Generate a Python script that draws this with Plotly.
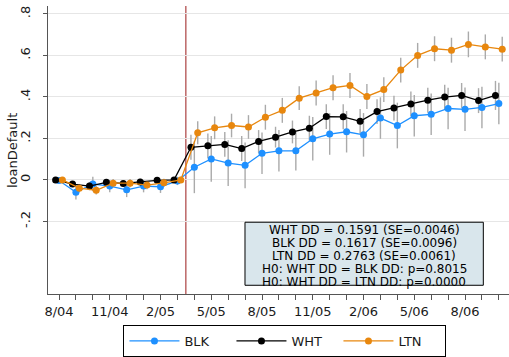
import plotly.graph_objects as go

# month index 0 = 8/04 ... 26 = 10/06
months = list(range(27))
tick_text = ["8/04", "", "", "11/04", "", "", "2/05", "", "", "5/05", "", "",
             "8/05", "", "", "11/05", "", "", "2/06", "", "", "5/06", "", "",
             "8/06", "", ""]

blk = [-0.003, -0.060, -0.020, -0.030, -0.048, -0.030, -0.033, -0.005,
       0.061, 0.101, 0.081, 0.070, 0.128, 0.140, 0.140, 0.198, 0.221, 0.232,
       0.217, 0.298, 0.262, 0.309, 0.316, 0.344, 0.340, 0.349, 0.368]
wht = [0.000, -0.020, -0.030, -0.012, -0.017, -0.010, -0.002, 0.000,
       0.157, 0.164, 0.171, 0.151, 0.185, 0.206, 0.231, 0.249, 0.305, 0.304,
       0.282, 0.329, 0.346, 0.366, 0.384, 0.399, 0.407, 0.382, 0.407]
ltn = [0.000, -0.040, -0.050, -0.016, -0.016, -0.025, -0.014, 0.000,
       0.227, 0.251, 0.262, 0.255, 0.302, 0.335, 0.394, 0.419, 0.444, 0.455,
       0.402, 0.435, 0.529, 0.600, 0.632, 0.625, 0.653, 0.641, 0.630]

blk_ci = [0.010, 0.035, 0.035, 0.030, 0.035, 0.030, 0.030, 0.020,
          0.125, 0.110, 0.110, 0.110, 0.100, 0.100, 0.095, 0.105, 0.100, 0.100,
          0.105, 0.100, 0.110, 0.100, 0.100, 0.100, 0.105, 0.100, 0.100]
wht_ci = [0.005, 0.015, 0.020, 0.015, 0.015, 0.015, 0.015, 0.010,
          0.060, 0.060, 0.060, 0.060, 0.055, 0.050, 0.055, 0.060, 0.060, 0.060,
          0.060, 0.060, 0.060, 0.060, 0.060, 0.060, 0.060, 0.060, 0.070]
ltn_ci = [0.010, 0.020, 0.020, 0.020, 0.020, 0.020, 0.020, 0.015,
          0.055, 0.055, 0.057, 0.057, 0.060, 0.060, 0.057, 0.060, 0.060, 0.060,
          0.060, 0.060, 0.060, 0.060, 0.060, 0.060, 0.062, 0.060, 0.060]

box_lines = ["WHT DD = 0.1591 (SE=0.0046)",
             "BLK DD = 0.1617 (SE=0.0096)",
             "LTN DD = 0.2763 (SE=0.0061)",
             "H0: WHT DD = BLK DD: p=0.8015",
             "H0: WHT DD = LTN DD: p=0.0000"]

treat_month = 7.5
y_ticks = [-0.2, 0, 0.2, 0.4, 0.6, 0.8]
y_tick_text = ["-.2", "0", ".2", ".4", ".6", ".8"]
y_title = "loanDefault"

FONT = "DejaVu Sans"
series = [("BLK", blk, blk_ci, "#1e90ff", 0.0),
          ("WHT", wht, wht_ci, "#000000", -0.2),
          ("LTN", ltn, ltn_ci, "#e8870e", 0.2)]

fig = go.Figure()
# error bars first (behind lines/markers)
for name, vals, ci, col, off in series:
    fig.add_trace(go.Scatter(
        x=[m + off for m in months], y=vals, mode="markers",
        marker=dict(size=1, opacity=0),
        error_y=dict(type="data", array=ci, visible=True, width=0,
                     color="#aaaaaa", thickness=1.4),
        showlegend=False, hoverinfo="skip", cliponaxis=False))
for name, vals, ci, col, off in series:
    fig.add_trace(go.Scatter(
        x=[m + off for m in months], y=vals, mode="lines+markers", name=name,
        line=dict(color=col, width=1.3),
        marker=dict(color=col, size=7), cliponaxis=False))

fig.add_shape(type="line", xref="x", yref="paper", x0=treat_month, x1=treat_month,
              y0=0, y1=1, line=dict(color="#9b1b1b", width=1), layer="below")

# text box
fig.add_shape(type="rect", xref="paper", yref="paper",
              x0=0.4273, x1=0.9443, y0=0.0303, y1=0.2492,
              fillcolor="#d9e6ec", line=dict(color="#000000", width=1))
ys = [0.2232, 0.1771, 0.1313, 0.0859, 0.0404]
for t, yy in zip(box_lines, ys):
    fig.add_annotation(text=t, xref="paper", yref="paper", x=0.6855, y=yy,
                       xanchor="center", yanchor="middle", showarrow=False,
                       font=dict(family=FONT, size=12, color="#000000"))

# y axis title
fig.add_annotation(text=y_title, xref="paper", yref="paper", x=-0.0781, y=0.5,
                   xanchor="center", yanchor="middle", textangle=-90, showarrow=False,
                   font=dict(family=FONT, size=13, color="#1a1a1a"))

fig.update_layout(
    width=509, height=357,
    margin=dict(l=48, r=0, t=6, b=54),
    paper_bgcolor="white", plot_bgcolor="white",
    font=dict(family=FONT, size=13, color="#1a1a1a"),
    legend=dict(orientation="h", x=0.514, xanchor="center", y=-0.108, yanchor="top",
                bordercolor="#000000", borderwidth=1, bgcolor="white",
                font=dict(family=FONT, size=13, color="#1a1a1a"),
                itemwidth=50, entrywidth=42, entrywidthmode="pixels"),
    xaxis=dict(range=[-0.65, 26.6], tickmode="array", tickvals=months,
               ticktext=tick_text, ticks="outside", ticklen=5, tickcolor="#555555",
               showline=True, linecolor="#555555", linewidth=1, showgrid=False,
               zeroline=False, tickangle=0, automargin=False),
    yaxis=dict(range=[-0.55, 0.838], tickmode="array", tickvals=y_ticks,
               ticktext=y_tick_text, ticks="outside", ticklen=4, tickcolor="#555555",
               tickangle=-90, ticklabelstandoff=8, showline=True,
               linecolor="#555555", linewidth=1, automargin=False,
               showgrid=True, gridcolor="#e6e6e6", gridwidth=1, zeroline=False),
)

fig.write_html("out.html", config={"displayModeBar": False},
               post_script="document.body.style.margin='0';document.body.style.padding='0';")
